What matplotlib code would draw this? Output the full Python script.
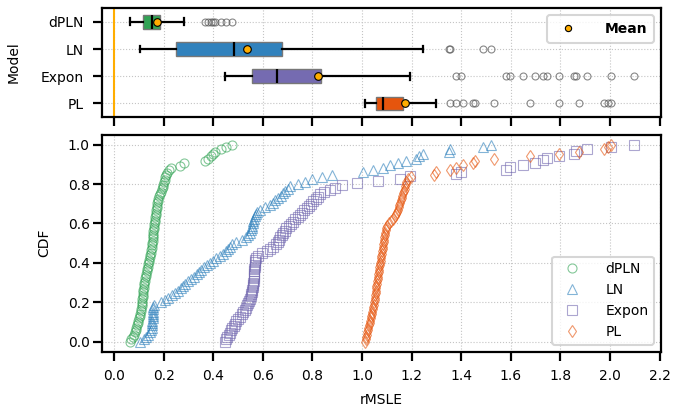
import numpy as np
import matplotlib
matplotlib.use("Agg")
import matplotlib.pyplot as plt
from matplotlib.lines import Line2D

# rMSLE per dataset (sorted)
models = ["dPLN", "LN", "Expon", "PL"]
colors = ["#31a354", "#3182bd", "#756bb1", "#e6550d"]
markers = ["o", "^", "s", "d"]

dpln = [0.064, 0.070, 0.076, 0.080, 0.084, 0.087, 0.090, 0.092, 0.095, 0.097,
        0.100, 0.103, 0.106, 0.109, 0.110, 0.111, 0.112, 0.113, 0.114, 0.115,
        0.116, 0.117, 0.118, 0.119, 0.121, 0.122, 0.124, 0.125, 0.127, 0.129,
        0.131, 0.133, 0.135, 0.137, 0.140, 0.142, 0.144, 0.146, 0.149, 0.151,
        0.153, 0.154, 0.155, 0.156, 0.157, 0.158, 0.158, 0.159, 0.160, 0.161,
        0.163, 0.164, 0.165, 0.166, 0.168, 0.169, 0.171, 0.172, 0.174, 0.175,
        0.177, 0.179, 0.183, 0.187, 0.190, 0.193, 0.196, 0.199, 0.202, 0.205,
        0.207, 0.210, 0.213, 0.222, 0.231, 0.265, 0.282, 0.366, 0.379, 0.392,
        0.399, 0.406, 0.433, 0.453, 0.477]
ln = [0.104, 0.120, 0.130, 0.138, 0.145, 0.150, 0.152, 0.153, 0.154, 0.155,
      0.156, 0.156, 0.157, 0.157, 0.158, 0.158, 0.160, 0.190, 0.205, 0.218,
      0.232, 0.245, 0.258, 0.270, 0.280, 0.287, 0.300, 0.312, 0.322, 0.333,
      0.343, 0.350, 0.362, 0.374, 0.388, 0.400, 0.413, 0.428, 0.440, 0.452,
      0.461, 0.468, 0.474, 0.492, 0.515, 0.533, 0.542, 0.548, 0.552, 0.555,
      0.558, 0.560, 0.562, 0.566, 0.570, 0.573, 0.576, 0.590, 0.610, 0.628,
      0.640, 0.651, 0.662, 0.674, 0.681, 0.690, 0.700, 0.708, 0.740, 0.772,
      0.800, 0.840, 0.880, 1.004, 1.044, 1.085, 1.112, 1.145, 1.179, 1.219,
      1.230, 1.246, 1.352, 1.356, 1.488, 1.520]
expon = [0.447, 0.452, 0.457, 0.462, 0.468, 0.473, 0.477, 0.482, 0.486, 0.493,
         0.500, 0.507, 0.514, 0.521, 0.527, 0.532, 0.537, 0.542, 0.546, 0.550,
         0.552, 0.554, 0.557, 0.558, 0.560, 0.561, 0.562, 0.563, 0.563, 0.564,
         0.565, 0.566, 0.566, 0.567, 0.568, 0.569, 0.570, 0.571, 0.580, 0.595,
         0.615, 0.630, 0.642, 0.652, 0.660, 0.666, 0.671, 0.676, 0.681, 0.688,
         0.695, 0.704, 0.713, 0.722, 0.731, 0.740, 0.749, 0.758, 0.767, 0.777,
         0.786, 0.795, 0.804, 0.813, 0.822, 0.832, 0.845, 0.870, 0.890, 0.920,
         0.980, 1.065, 1.152, 1.192, 1.378, 1.401, 1.582, 1.596, 1.649, 1.699,
         1.730, 1.744, 1.793, 1.855, 1.864, 1.909, 2.003, 2.097]
pl = [1.011, 1.015, 1.018, 1.020, 1.022, 1.024, 1.026, 1.029, 1.031, 1.034,
      1.036, 1.038, 1.040, 1.042, 1.044, 1.046, 1.048, 1.050, 1.051, 1.052,
      1.054, 1.055, 1.056, 1.057, 1.058, 1.060, 1.061, 1.063, 1.064, 1.066,
      1.067, 1.069, 1.070, 1.072, 1.073, 1.075, 1.076, 1.078, 1.080, 1.081,
      1.083, 1.084, 1.086, 1.087, 1.088, 1.089, 1.091, 1.093, 1.095, 1.097,
      1.101, 1.108, 1.116, 1.124, 1.132, 1.136, 1.140, 1.144, 1.148, 1.151,
      1.154, 1.157, 1.160, 1.163, 1.166, 1.169, 1.172, 1.174, 1.176, 1.178,
      1.186, 1.199, 1.290, 1.300, 1.354, 1.378, 1.407, 1.448, 1.457, 1.532,
      1.676, 1.794, 1.874, 1.976, 1.990, 2.003]
samples = [dpln, ln, expon, pl]
xticks = np.arange(0, 2.21, 0.2)
mean_color = "#ffad00"

plt.rcParams.update({
    "font.size": 10,
    "axes.linewidth": 1.6,
    "xtick.major.size": 6.5, "ytick.major.size": 6.5,
    "xtick.major.width": 1.6, "ytick.major.width": 1.6,
    "xtick.major.pad": 6, "ytick.major.pad": 2,
    "axes.labelpad": 7,
})

fig = plt.figure(figsize=(6.73, 4.16), dpi=100)
ax_box = fig.add_axes([0.151, 0.719, 0.831, 0.261])
ax_cdf = fig.add_axes([0.151, 0.155, 0.831, 0.521], sharex=ax_box)

for ax in (ax_box, ax_cdf):
    ax.set_axisbelow(True)
    ax.grid(True, ls=":", color="#c4c4c4", lw=0.8)

# --- top: boxplots
ax_box.axvline(0, color=mean_color, lw=1.5, zorder=1)
bp = ax_box.boxplot(samples, orientation="horizontal", positions=range(4), widths=0.5,
                    patch_artist=True, showmeans=True, tick_labels=models,
                    boxprops=dict(edgecolor="#777777", lw=1.0),
                    medianprops=dict(color="black", lw=1.6),
                    whiskerprops=dict(color="black", lw=1.6),
                    capprops=dict(color="black", lw=1.6),
                    meanprops=dict(marker="o", mfc=mean_color, mec="black", ms=5.5, mew=0.8),
                    flierprops=dict(marker="o", mfc="none", mec="#555555", ms=5, mew=0.8, alpha=0.7))
for patch, c in zip(bp["boxes"], colors):
    patch.set_facecolor(c)
ax_box.set_ylim(3.5, -0.5)
ax_box.set_ylabel("Model", labelpad=14)
ax_box.tick_params(axis="x", labelbottom=False)
ax_box.tick_params(axis="y", pad=6.5)
mean_h = Line2D([], [], ls="none", marker="o", mfc=mean_color, mec="black", ms=4.5, mew=0.8)
ax_box.legend([mean_h], ["Mean"], loc="upper right", prop=dict(weight="bold"),
              handletextpad=1.6, borderpad=0.5,
              edgecolor="#cccccc").get_frame().set_linewidth(1.5)

# --- bottom: empirical CDFs
for name, vals, c, m in zip(models, samples, colors, markers):
    v = np.sort(vals)
    cdf = np.linspace(0, 1, len(v))
    ax_cdf.plot(v, cdf, ls="none", marker=m, mfc="none", mec=c, ms=6.5, mew=0.8,
                alpha=0.6, label=name)
ax_cdf.set_xlim(-0.05, 2.205)
ax_cdf.set_ylim(-0.05, 1.05)
ax_cdf.set_xticks(xticks)
ax_cdf.set_yticks(np.arange(0, 1.01, 0.2))
ax_cdf.set_xlabel("rMSLE")
ax_cdf.set_ylabel("CDF", labelpad=12)
leg = ax_cdf.legend(loc="lower right", edgecolor="#cccccc", handletextpad=1.4)
leg.get_frame().set_linewidth(1.5)

fig.savefig("out.png", dpi=100)
